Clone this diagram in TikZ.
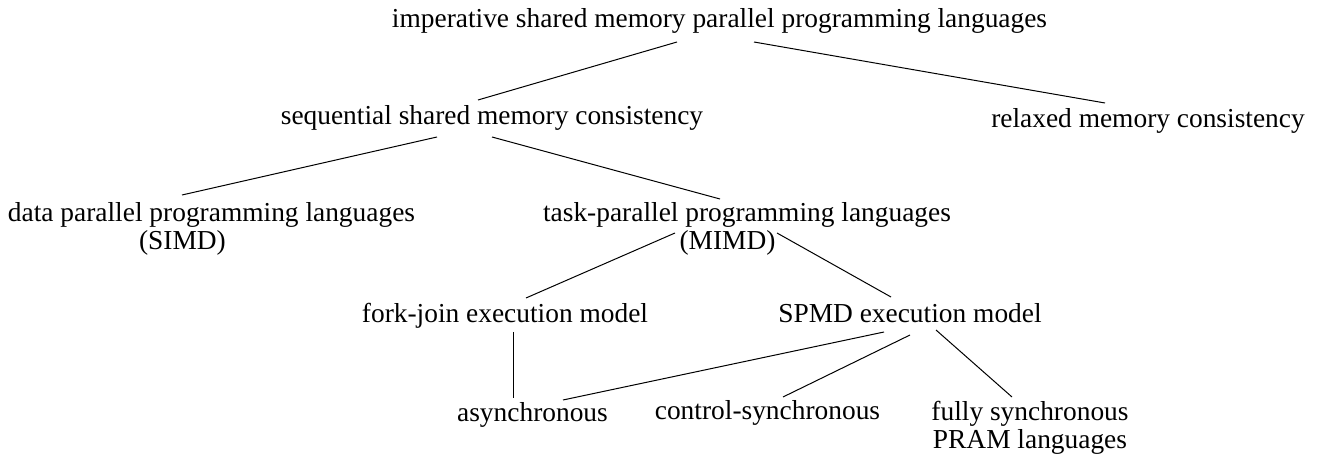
\documentclass[tikz,border=0pt]{standalone}
\usepackage{fontspec}
\setmainfont{Liberation Serif}
\usetikzlibrary{calc}

\begin{document}
\begin{tikzpicture}[x=0.5pt, y=-0.5pt, line width=0.5pt,
                    every node/.style={font=\fontsize{13.7pt}{14pt}\selectfont, inner sep=0pt, anchor=base}]
                    \useasboundingbox (0,0) rectangle (1319,459);
                    \node (top) at (719.5,28) {imperative shared memory parallel programming languages};
                    \node (seq) at (492,125) {sequential shared memory consistency};
                    \node (relax) at (1148,128) {relaxed memory consistency};
                    \node [align=center] (data) at (211.5,250) {data parallel programming languages\\(SIMD)\hspace*{29pt}};
                    \node [align=center] (task) at (747,250) {task-parallel programming languages\\(MIMD)\hspace*{19.5pt}};
                    \node (fork) at (505,323) {fork-join execution model};
                    \node (spmd) at (910,323) {SPMD execution model};
                    \node (async) at (532.5,422) {asynchronous};
                    \node (ctrl) at (767.5,420) {control-synchronous};
                    \node [align=center] (fully) at (1030,449) {fully synchronous\\PRAM languages};
                    \draw ($(top.base)+(-42.5,14)$) -- ($(seq.base)+(-14,-25)$);
                    \draw ($(top.base)+(34.5,14)$) -- ($(relax.base)+(-43,-25)$);
                    \draw ($(seq.base)+(-55,12)$) -- ($(data.base)+(-29.5,-55)$);
                    \draw ($(seq.base)+(0,12)$) -- ($(task.base)+(-27,-51)$);
                    \draw ($(task.base)+(-72,-17)$) -- ($(fork.base)+(21,-25)$);
                    \draw ($(task.base)+(30,-17)$) -- ($(spmd.base)+(-19,-26)$);
                    \draw ($(fork.base)+(8,9)$) -- ($(async.base)+(-19.5,-24)$);
                    \draw ($(spmd.base)+(-26,9)$) -- ($(async.base)+(30.5,-22)$);
                    \draw ($(spmd.base)+(0,12)$) -- ($(ctrl.base)+(15.5,-23)$);
                    \draw ($(spmd.base)+(26,7)$) -- ($(fully.base)+(-18,-52)$);
                \end{tikzpicture}
\end{document}
